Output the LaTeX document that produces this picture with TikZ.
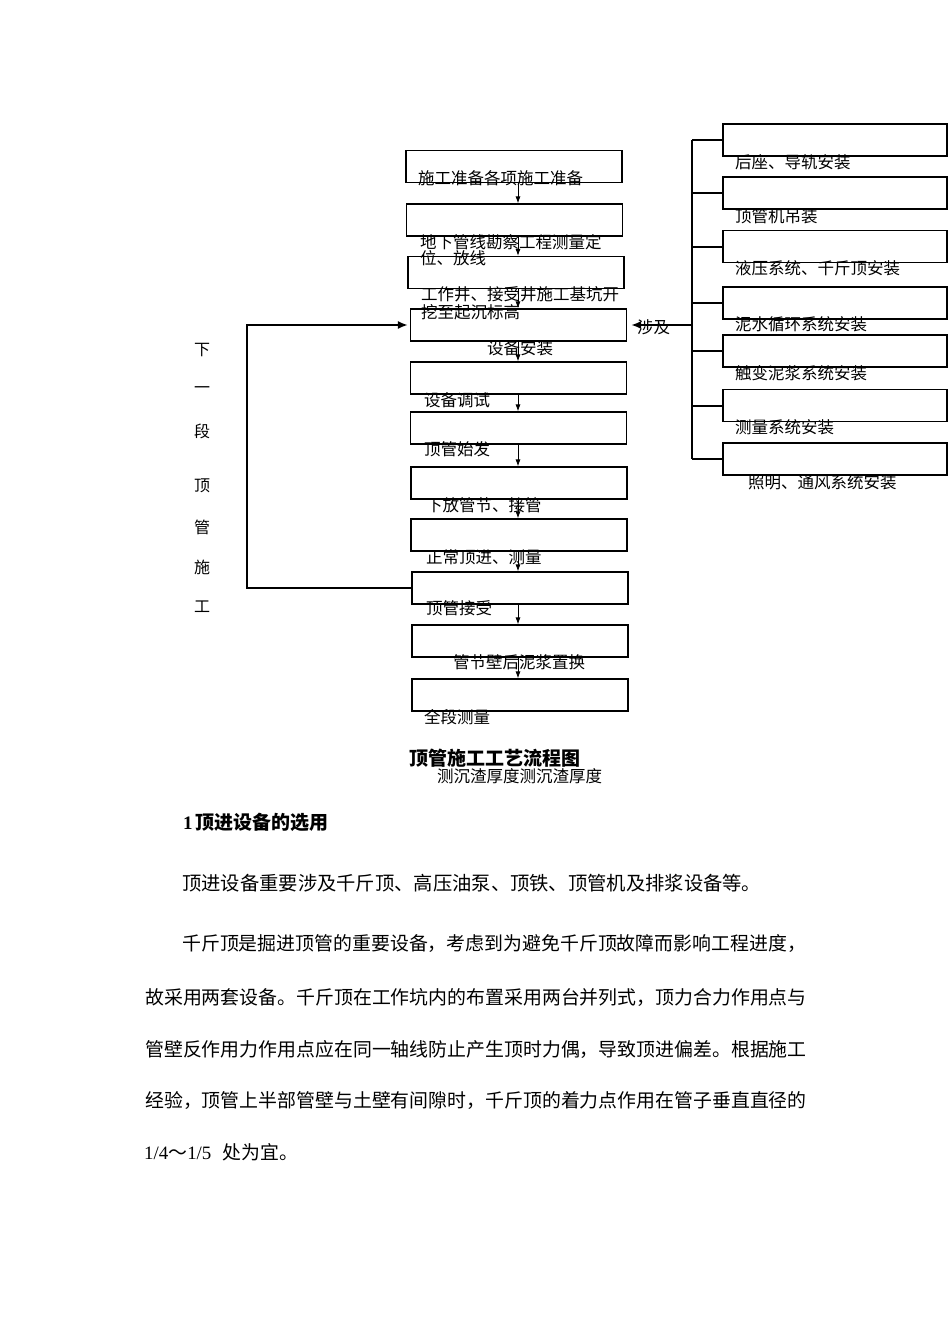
\documentclass[tikz,border=0pt]{standalone}
\usepackage{fontspec}
\setmainfont{Liberation Serif}
\newfontfamily\cjk{Noto Sans CJK SC}
\usetikzlibrary{arrows.meta}
\tikzset{
  box/.style={draw, line width=1.1pt, minimum width=216pt, minimum height=32pt, inner sep=0pt},
  rbox/.style={draw, line width=1.1pt, minimum width=224pt, minimum height=32pt, inner sep=0pt},
  lbl/.style={anchor=west, inner sep=0pt, font=\cjk\fontsize{16.5}{17}\selectfont},
  vlbl/.style={inner sep=0pt, font=\cjk\fontsize{16}{17}\selectfont},
  body/.style={anchor=west, inner sep=0pt, font=\cjk\fontsize{18.9}{20}\selectfont},
  flow/.style={line width=0.9pt, -{Latex[length=7pt,width=5pt]}},
  thickln/.style={line width=2pt},
  bigtip/.style={-{Latex[length=10pt,width=8pt]}},
}
\begin{document}
\begin{tikzpicture}[x=1pt,y=-1pt]
\useasboundingbox[fill=white] (0,0) rectangle (950,1344);
% main boxes
\node[box] (b1) at (514,166.5) {};
\node[box] (b2) at (514.5,220) {};
\node[box] (b3) at (516,272.5) {};
\node[box] (b4) at (518.5,325) {};
\node[box] (b5) at (518.5,378) {};
\node[box] (b6) at (518.5,428) {};
\node[box] (b7) at (519,483) {};
\node[box] (b8) at (519,535) {};
\node[box] (b9) at (520,588) {};
\node[box] (b10) at (520,641) {};
\node[box] (b11) at (520,695) {};
% right boxes
\node[rbox] (r1) at (835,140) {};
\node[rbox] (r2) at (835,193) {};
\node[rbox] (r3) at (835,246.5) {};
\node[rbox] (r4) at (835,303) {};
\node[rbox] (r5) at (835,351) {};
\node[rbox] (r6) at (835,405.5) {};
\node[rbox] (r7) at (835,459) {};
% coordinates
\coordinate (ax) at (518,0);
\coordinate (tr) at (692,0);
\coordinate (lp) at (247,0);
% vertical arrows
\foreach \a/\b in {b1/b2,b2/b3,b3/b4,b4/b5,b5/b6,b6/b7,b7/b8,b8/b9,b9/b10,b10/b11}
  \draw[flow] (\a.south -| ax) -- (\b.north -| ax);
% right trunk
\draw[thickln] (r1.west -| tr) -- (r7.west -| tr);
\foreach \r in {r1,r2,r3,r4,r5,r6,r7}
  \draw[thickln] (\r.west -| tr) -- (\r.west);
\draw[thickln, bigtip, shorten >=4pt] (b4.east -| tr) -- (b4.east);
% left loop
\draw[thickln, bigtip, shorten >=2pt] (b9.west) -- (b9.west -| lp) -- (b4.west -| lp) -- (b4.west);
% main labels
\node[lbl] (t1) at (418,178) {施工准备各项施工准备};
\node[lbl] (t2a) at (420,242) {地下管线勘察工程测量定};
\node[lbl] (t2b) at (420,258) {位、放线};
\node[lbl] (t3a) at (421,294) {工作井、接受井施工基坑开};
\node[lbl] (t3b) at (421,312) {挖至起沉标高};
\node[lbl] (t4) at (487,348) {设备安装};
\node[lbl] (t5) at (424,400) {设备调试};
\node[lbl] (t6) at (424,449) {顶管始发};
\node[lbl] (t7) at (426,505) {下放管节、接管};
\node[lbl] (t8) at (426,557) {正常顶进、测量};
\node[lbl] (t9) at (426,608) {顶管接受};
\node[lbl] (t10) at (453,662) {管节壁后泥浆置换};
\node[lbl] (t11) at (424,717) {全段测量};
\node[lbl] (sj) at (637,327) {涉及};
% right labels
\node[lbl] (s1) at (735,162) {后座、导轨安装};
\node[lbl] (s2) at (735,216) {顶管机吊装};
\node[lbl] (s3) at (735,268) {液压系统、千斤顶安装};
\node[lbl] (s4) at (735,324) {泥水循环系统安装};
\node[lbl] (s5) at (735,373) {触变泥浆系统安装};
\node[lbl] (s6) at (735,427) {测量系统安装};
\node[lbl] (s7) at (748,482) {照明、通风系统安装};
% vertical text
\node[vlbl] (v1) at (202,350) {下};
\node[vlbl] (v2) at (202,390) {一};
\node[vlbl] (v3) at (202,431) {段};
\node[vlbl] (v4) at (202,486) {顶};
\node[vlbl] (v5) at (202,527) {管};
\node[vlbl] (v6) at (202,567) {施};
\node[vlbl] (v7) at (202,607) {工};
% caption
\node[anchor=west, inner sep=0pt, font=\cjk\bfseries\fontsize{19}{20}\selectfont] (cap) at (409,758) {顶管施工工艺流程图};
\node[lbl] (cap2) at (437,776) {测沉渣厚度测沉渣厚度};
% body text
\node[anchor=west, inner sep=0pt, font=\fontsize{19}{20}\selectfont\bfseries] (h1) at (183,822) {1\hspace{2.5pt}{\cjk 顶进设备的选用}};
\node[body, font=\cjk\fontsize{19.3}{20}\selectfont] (p1) at (182,883) {顶进设备重要涉及千斤顶、高压油泵、顶铁、顶管机及排浆设备等。};
\node[body] (p2) at (182,944) {千斤顶是掘进顶管的重要设备，考虑到为避免千斤顶故障而影响工程进度，};
\node[body] (p3) at (145,997) {故采用两套设备。千斤顶在工作坑内的布置采用两台并列式，顶力合力作用点与};
\node[body] (p4) at (145,1049) {管壁反作用力作用点应在同一轴线防止产生顶时力偶，导致顶进偏差。根据施工};
\node[body] (p5) at (145,1100) {经验，顶管上半部管壁与土壁有间隙时，千斤顶的着力点作用在管子垂直直径的};
\node[anchor=west, inner sep=0pt, font=\fontsize{18.9}{20}\selectfont] (p6) at (144,1152) {1/4{\cjk ～}1/5\hspace{11pt}{\cjk 处为宜。}};
\end{tikzpicture}
\end{document}
